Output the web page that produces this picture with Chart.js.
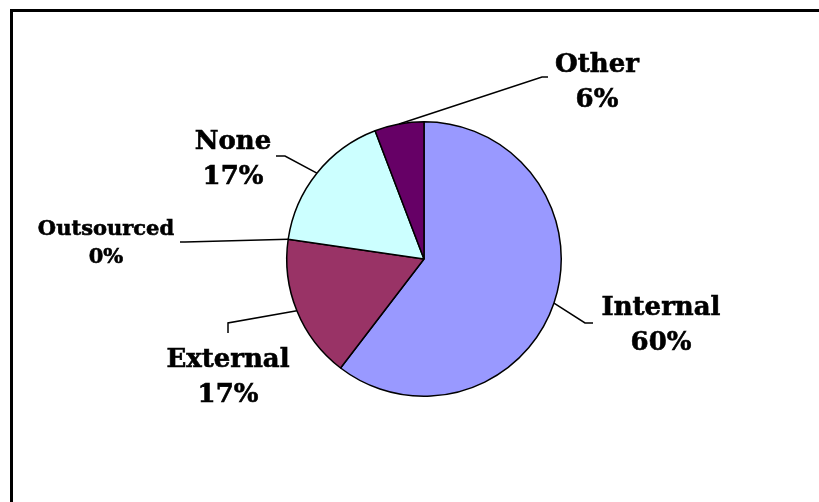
<!DOCTYPE html>
<html>
<head>
<meta charset="utf-8">
<script src="https://cdn.jsdelivr.net/npm/chart.js@4/dist/chart.umd.min.js"></script>
<style>
	html, body { margin: 0; padding: 0; background: #fff; overflow: hidden; }
	#wrap { position: relative; width: 819px; height: 502px; }
	#frame { position: absolute; left: 10px; top: 9px; width: 1000px; height: 1000px; border: 3px solid #000; }
	#myChart { position: absolute; left: 0; top: 0; }
</style>
</head>
<body>
<div id="wrap">
	<div id="frame"></div>
	<canvas id="myChart" width="819" height="502"></canvas>
</div>
<script>
const LABELS = ['Internal', 'External', 'Outsourced', 'None', 'Other']
const VALUES = [60.4, 16.9, 0, 16.9, 5.8]
const COLORS = ['#9999FF', '#993366', '#FFFFCC', '#CCFFFF', '#660066']

// where each label sits and how its leader line bends (by slice index)
const CALLOUTS = [
	{ x: 661, y: 315, size: 26, elbow: [585, 323], end: [593, 323] },
	{ x: 228, y: 367, size: 26, elbow: [228, 323], end: [228, 333] },
	{ x: 106, y: 235, size: 21, elbow: [185, 242], end: [180, 242] },
	{ x: 233, y: 149, size: 26, elbow: [285, 156], end: [276, 156] },
	{ x: 597, y: 72, size: 26, elbow: [542, 77], end: [548, 77] }
]

const calloutPlugin = {
	id: 'callouts',
	afterDatasetsDraw(chart) {
		const { ctx } = chart
		const meta = chart.getDatasetMeta(0)
		const total = VALUES.reduce((a, b) => a + b, 0)
		ctx.save()
		meta.data.forEach((arc, i) => {
			const c = CALLOUTS[i]
			const { x, y, startAngle, endAngle, outerRadius } = arc.getProps(['x', 'y', 'startAngle', 'endAngle', 'outerRadius'], true)
			const mid = (startAngle + endAngle) / 2
			const sx = x + Math.cos(mid) * outerRadius
			const sy = y + Math.sin(mid) * outerRadius
			ctx.strokeStyle = '#000'
			ctx.lineWidth = 1.5
			ctx.beginPath()
			ctx.moveTo(sx, sy)
			ctx.lineTo(c.elbow[0], c.elbow[1])
			ctx.lineTo(c.end[0], c.end[1])
			ctx.stroke()

			const pct = Math.round(VALUES[i] / total * 100) + '%'
			ctx.fillStyle = '#000'
			ctx.strokeStyle = '#000'
			ctx.lineWidth = 0.6
			ctx.textAlign = 'center'
			ctx.textBaseline = 'alphabetic'
			ctx.font = `bold ${c.size}px "DejaVu Serif"`
			const dy = c.size > 22 ? 35 : 28
			ctx.fillText(LABELS[i], c.x, c.y)
			ctx.strokeText(LABELS[i], c.x, c.y)
			ctx.fillText(pct, c.x, c.y + dy)
			ctx.strokeText(pct, c.x, c.y + dy)
		})
		ctx.restore()
	}
}

const CANVAS = document.getElementById('myChart')

const CHART = new Chart(CANVAS, {
	type: 'pie',
	data: {
		labels: LABELS,
		datasets: [{
			data: VALUES,
			backgroundColor: COLORS,
			borderColor: '#000',
			borderWidth: 1.5
		}]
	},
	options: {
		responsive: false,
		animation: false,
		devicePixelRatio: 1,
		layout: {
			padding: { left: 286, right: 257, top: 121, bottom: 105 }
		},
		plugins: {
			legend: { display: false },
			tooltip: { enabled: false }
		}
	},
	plugins: [calloutPlugin]
})
</script>
</body>
</html>
